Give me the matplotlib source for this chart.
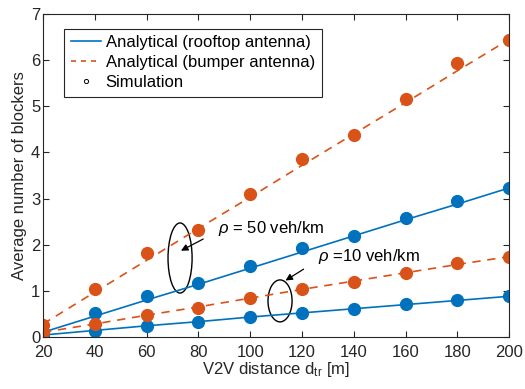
import numpy as np
import matplotlib.pyplot as plt
from matplotlib.lines import Line2D
from matplotlib.patches import Ellipse

plt.rcParams['font.family'] = ['Liberation Sans', 'DejaVu Sans']
plt.rcParams['mathtext.fontset'] = 'custom'
plt.rcParams['mathtext.rm'] = 'Liberation Sans'
plt.rcParams['mathtext.it'] = 'Liberation Sans:italic'

# distances [m]
dist = [20, 40, 60, 80, 100, 120, 140, 160, 180, 200]

# analytical curves
roof_50_ana = [0.10, 0.45, 0.80, 1.14, 1.49, 1.84, 2.19, 2.54, 2.88, 3.23]
bump_50_ana = [0.28, 0.97, 1.66, 2.35, 3.03, 3.72, 4.40, 5.08, 5.77, 6.45]
roof_10_ana = [0.04, 0.14, 0.24, 0.33, 0.43, 0.52, 0.61, 0.70, 0.79, 0.88]
bump_10_ana = [0.10, 0.28, 0.47, 0.65, 0.84, 1.03, 1.21, 1.39, 1.57, 1.74]

# simulation points
roof_50_sim = [0.10, 0.52, 0.89, 1.17, 1.54, 1.93, 2.19, 2.58, 2.95, 3.23]
bump_50_sim = [0.26, 1.04, 1.82, 2.32, 3.09, 3.86, 4.38, 5.16, 5.94, 6.44]
roof_10_sim = [0.02, 0.13, 0.24, 0.33, 0.43, 0.52, 0.61, 0.71, 0.80, 0.88]
bump_10_sim = [0.10, 0.28, 0.48, 0.63, 0.84, 1.04, 1.19, 1.39, 1.61, 1.74]

blue = '#0072BD'
orange = '#D95319'
fs = 12

fig = plt.figure(figsize=(5.25, 3.89), dpi=100)
ax = fig.add_axes([0.082, 0.134, 0.888, 0.830])

for ana, sim in [(roof_50_ana, roof_50_sim), (roof_10_ana, roof_10_sim)]:
    ax.plot(dist, ana, color=blue, lw=1.2)
    ax.plot(dist, sim, 'o', color=blue, ms=8.5, mec=blue, ls='none')
for ana, sim in [(bump_50_ana, bump_50_sim), (bump_10_ana, bump_10_sim)]:
    ax.plot(dist, ana, color=orange, lw=1.2, ls=(0, (5, 4)))
    ax.plot(dist, sim, 'o', color=orange, ms=8.5, mec=orange, ls='none')

# annotations
ax.add_patch(Ellipse((72.9, 1.71), 9.3, 1.52, fill=False, ec='black', lw=1.0))
ax.annotate('', xy=(72.3, 1.84), xytext=(82.8, 2.15),
            arrowprops=dict(arrowstyle='-|>', color='black', lw=0.9, mutation_scale=10))
ax.text(87.6, 2.36, r'$\rho$ = 50 veh/km', fontsize=fs, va='center', ha='left')

ax.add_patch(Ellipse((111.5, 0.78), 9.3, 0.91, fill=False, ec='black', lw=1.0))
ax.annotate('', xy=(112.7, 1.19), xytext=(121.5, 1.50),
            arrowprops=dict(arrowstyle='-|>', color='black', lw=0.9, mutation_scale=10))
ax.text(126.2, 1.74, r'$\rho$ =10 veh/km', fontsize=fs, va='center', ha='left')

ax.set_xlim(20, 200)
ax.set_ylim(0, 7)
ax.set_xticks(np.arange(20, 201, 20))
ax.set_yticks(np.arange(0, 8, 1))
ax.tick_params(direction='in', top=True, right=True, labelsize=fs, length=4,
               colors='#262626', pad=2)
ax.tick_params(axis='x', pad=6)
for s in ax.spines.values():
    s.set_color('#262626')
    s.set_linewidth(0.8)

ax.set_xlabel('V2V distance d$_{\\mathrm{tr}}$ [m]', fontsize=fs, color='#262626', labelpad=0)
ax.set_ylabel('Average number of blockers', fontsize=fs, color='#262626', labelpad=3)

handles = [Line2D([], [], color=blue, lw=1.2),
           Line2D([], [], color=orange, lw=1.2, ls=(0, (3, 3))),
           Line2D([], [], ls='none', marker='o', mfc='none', mec='black', ms=3, mew=0.7)]
labels = ['Analytical (rooftop antenna)', 'Analytical (bumper antenna)', 'Simulation']
leg = ax.legend(handles, labels, loc='upper left', bbox_to_anchor=(0.045, 0.955),
                fontsize=fs, fancybox=False, framealpha=1, edgecolor='#262626',
                handlelength=1.8, handletextpad=0.3, borderpad=0.4, labelspacing=0.3,
                borderaxespad=0)
leg.get_frame().set_linewidth(0.8)

fig.savefig('out.png', dpi=100)
